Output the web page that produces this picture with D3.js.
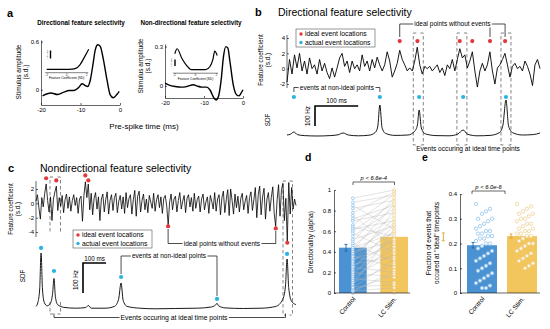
<!DOCTYPE html>
<html><head><meta charset="utf-8">
<script src="https://cdn.jsdelivr.net/npm/d3@7"></script>
<style>
body{margin:0;background:#fff}
svg{display:block;font-family:"Liberation Sans",Arial,Helvetica,sans-serif}
</style></head><body>
<svg id="fig" width="550" height="329"></svg>
<script>
// ================= DATA =================
// panel a : spike-triggered stimulus (ms, s.d.)
const aDirT = [-19.6,-17.5,-15.8,-14.2,-12.9,-11.7,-10.4,-9.6,-8.75,-8.2,-7.5,-6.8,-6.25,-5.6,-5.0,-4.2,-3.3,-2.5,-1.7,-0.8,-0.2];
const aDirV = [-0.075,-0.04,-0.06,-0.03,-0.01,-0.01,0.03,0.075,0.05,0.04,0.125,0.33,0.5,0.56,0.54,0.375,0.125,-0.06,-0.1,-0.06,-0.02];
const aNonT = [-20,-19.1,-17.4,-15.7,-14.4,-12.7,-11.9,-10.6,-9.3,-8.5,-7.4,-6.9,-6.3,-5.6,-5.0,-4.4,-3.9,-3.3,-2.5,-1.6,-1.0,-0.5,0];
const aNonV = [0.02,0.008,-0.005,-0.01,-0.005,0.008,0,-0.01,-0.01,-0.03,-0.095,-0.108,-0.082,0.046,0.225,0.3,0.29,0.175,0.008,-0.07,-0.077,-0.056,-0.03];
const aXTicks = [-20,-10,0];
const aDirYTicks = [0,0.6];
const aNonYTicks = [0,0.3];
// insets: spike probability vs feature coefficient (SD)
const inDirX = [-2,-1,0,0.5,0.9,1.3,1.8,2.2];
const inDirY = [0.11,0.11,0.11,0.12,0.15,0.29,0.64,0.95];
const inNonX = [-1.97,-1.75,-1.28,-0.84,-0.38,0.98,1.38,1.67,1.83,2.07];
const inNonY = [0.78,0.99,0.57,0.29,0.12,0.12,0.25,0.57,0.89,0.71];
const inTicks = [-2,0,2];

// panel b : directional feature coefficient trace (s.d.), sample step 5.8 ms
const bDt = 5.8;
const bCoef = [-1.75,1.2,-0.7,1.8,0.1,2.0,-0.3,1.0,-0.7,1.4,0.0,0.5,-0.7,1.2,-0.3,0.7,-0.5,-1.3,0.1,-1.1,
  0.1,1.4,2.0,0.3,1.0,-0.5,1.0,0.0,0.5,-0.3,1.8,0.3,1.0,-0.3,1.2,0.1,1.5,0.5,-0.3,0.5,
  2.2,1.0,-1.1,-0.3,0.7,2.4,1.2,0.5,-0.3,0.1,-0.3,1.0,2.8,0.5,-0.7,0.3,0.0,0.3,-0.3,0.1,
  0.5,-0.5,0.1,-0.9,0.5,0.0,1.2,-0.3,1.2,2.6,1.4,1.8,0.1,1.0,2.2,-0.3,-2.4,-0.3,0.7,-0.3,
  0.5,2.2,-0.3,-2.0,0.1,0.5,1.2,2.0,0.5,-1.1,0.3,0.7,0.0,0.3,-0.3,1.0,0.3,-0.7,-2.2,0.5,
  1.2,0.0];
const bIdealT = [261,302,400,429,470,505];
const bIdealV = [3.6,3.6,3.6,3.6,3.6,3.6];
const bEventT = [16,215,306,408,507];
const bEventHz = [200,200,200,200,200];
const bSdfT  = [0,8,16,24,40,70,100,118,130,142,165,190,204,210,215,220,228,250,280,296,302,306,311,320,345,375,395,408,418,440,470,492,500,507,513,522,545,570,586];
const bSdfHz = [10,14,25,12,7,5,7,11,20,10,6,9,22,50,160,48,18,8,10,30,60,135,45,16,7,6,14,35,14,6,8,22,60,185,55,22,10,12,20];
const bBoxT = [304,405,507];
const bYTicks = [-2,0,2,4];

// panel c : non-directional feature coefficient trace, sample step 6.3 ms
const cDt = 6.3;
const cCoef = [0.3,1.2,-0.6,-2.2,0.8,-0.5,1.4,2.7,0.4,-1.2,
  0.9,-2.4,0.6,1.6,2.4,-1.0,0.8,-0.4,1.1,-1.3,
  0.5,1.3,-0.7,0.9,-1.1,0.4,1.2,-0.3,0.8,-1.4,
  0.6,1.0,-2.5,1.1,3.0,0.8,2.7,-0.9,1.4,-1.6,
  0.7,1.5,-0.8,0.9,-2.4,0.6,1.3,-1.2,0.5,1.6,
  -1.5,0.4,1.2,-1.0,0.8,1.4,-1.3,0.3,1.1,-0.8,
  0.9,-1.4,1.5,-0.6,0.7,1.2,-1.5,0.5,1.8,-1.8,
  1.0,1.7,-1.2,0.4,1.3,-0.9,0.6,-1.3,1.1,0.2,
  -0.7,1.4,-1.1,0.5,1.2,-0.6,0.9,-1.4,0.7,1.1,
  -0.4,-3.0,0.2,1.3,-0.9,0.6,1.0,-1.2,0.4,1.5,
  -0.8,0.3,1.1,-1.3,0.7,1.2,-0.5,0.8,-1.1,1.4,
  -0.7,0.5,1.0,-1.2,0.6,1.3,-0.9,0.2,0.9,-1.4,
  1.1,0.3,-0.8,1.5,-1.1,0.6,1.2,-1.6,0.8,1.7,
  -1.3,0.5,1.9,-1.7,2.0,0.4,-1.5,1.3,-0.6,1.0,
  -1.2,0.7,1.4,-0.9,0.3,1.1,-1.4,0.8,1.6,-1.0,
  0.5,2.2,-2.0,1.2,2.4,-1.6,0.9,2.1,-2.2,0.6,
  1.5,-1.1,0.8,2.3,-1.4,-3.2,0.5,2.6,-1.8,1.9,
  2.8,-2.4,0.7,-5.3,2.9,-1.5,2.2,-0.8,0.6,-0.3];
const cIdealT = [44,88,214,227,573,1040,1090];
const cIdealV = [3.5,3.2,3.9,3.2,-3.2,-3.5,-5.5];
const cEventT = [22,78,369,785,1089];
const cEventHz = [207,130,110,37,187];
const cSdfT  = [0,8,16,22,28,36,48,62,72,78,84,94,120,170,215,227,240,300,340,358,369,378,395,450,520,600,700,760,778,785,792,820,900,980,1040,1070,1082,1089,1096,1108,1127];
const cSdfHz = [12,25,70,190,70,25,14,22,55,105,45,18,9,6,8,15,6,6,12,35,90,32,12,6,4,5,6,10,16,22,14,7,5,6,12,35,80,170,75,30,18];
const cYTicks = [-4,-2,0,2];

// panel d : directionality (alpha)
const groups = ["Control","LC Stim."];
const dMeans = [0.44,0.545];
const dErr = [0.032,0.038];
const dControl = [0.92,0.88,0.85,0.82,0.78,0.75,0.72,0.7,0.66,0.64,0.62,0.6,0.58,0.55,0.52,0.5,0.48,0.46,0.44,0.42,0.4,0.38,0.36,0.35,0.33,0.31,0.3,0.28,0.26,0.25,0.23,0.21,0.2,0.18,0.16,0.14,0.12,0.1,0.08,0.06,0.05,0.03,0.02,0.01,0.0];
const dLC = [1.0,0.95,0.62,0.9,0.98,0.45,0.85,0.78,0.96,0.55,0.7,0.88,0.4,0.82,0.65,0.92,0.3,0.75,0.58,0.86,0.5,0.68,0.25,0.72,0.45,0.6,0.8,0.35,0.52,0.2,0.66,0.42,0.15,0.56,0.38,0.1,0.48,0.28,0.62,0.08,0.33,0.18,0.05,0.22,0.0];
const dYTicks = [0,0.2,0.4,0.6,0.8,1];
const dP = "p < 6.6e-4";

// panel e : fraction of events at ideal timepoints
const eMeans = [0.193,0.23];
const eErr = [0.011,0.008];
const eControl = [0.36,0.34,0.33,0.32,0.3,0.3,0.29,0.28,0.27,0.26,0.25,0.25,0.24,0.24,0.23,0.23,0.22,0.22,0.21,0.2,0.2,0.19,0.18,0.17,0.16,0.15,0.14,0.13,0.12,0.11,0.1,0.09,0.08,0.07,0.06,0.05,0.04,0.03,0.02,0.02];
const eLC = [0.36,0.35,0.34,0.33,0.32,0.32,0.31,0.3,0.3,0.29,0.28,0.28,0.27,0.26,0.26,0.25,0.25,0.24,0.24,0.23,0.23,0.22,0.21,0.2,0.2,0.19,0.18,0.17,0.16,0.15,0.14,0.13,0.12,0.11,0.1];
const eYTicks = [0,0.1,0.2,0.3,0.4];
const eP = "p < 6.0e-6";

// ================= DRAW =================
const FONT = '"Liberation Sans", Arial, Helvetica, sans-serif';
const RED = "#e5363a", CYAN = "#29b3e2";
const BLUE = "#4b92d2", YEL = "#f2c55d";
const svg = d3.select("#fig");

function txt(x, y, s, o = {}) {
  const t = svg.append("text").attr("x", x).attr("y", y).text(s)
    .attr("font-size", o.size || 6).attr("fill", o.fill || "#000")
    .attr("text-anchor", o.anchor || "start");
  if (o.weight) t.attr("font-weight", o.weight);
  if (o.style) t.attr("font-style", o.style);
  if (o.rot !== undefined) t.attr("transform", `rotate(${o.rot},${x},${y})`);
  if (o.halo) t.attr("stroke", "#fff").attr("stroke-width", 3).attr("paint-order", "stroke");
  return t;
}
function styleAxis(g, size) {
  g.attr("font-family", FONT).attr("font-size", size || 6);
  g.selectAll("path,line").attr("stroke", "#000").attr("stroke-width", 0.6);
  g.selectAll("text").attr("fill", "#000");
  return g;
}
function path(d, o = {}) {
  return svg.append("path").attr("d", d).attr("fill", "none")
    .attr("stroke", o.stroke || "#000").attr("stroke-width", o.w || 0.8)
    .attr("stroke-dasharray", o.dash || null);
}
const fmt = d => String(d);

// ---------- panel a ----------
txt(7, 17, "a", {size: 11, weight: "bold"});
txt(81, 25, "Directional feature selectivity", {size: 6.3, weight: "bold", anchor: "middle"});
txt(191, 25, "Non-directional feature selectivity", {size: 6.3, weight: "bold", anchor: "middle"});
txt(144, 129, "Pre-spike time (ms)", {size: 8, anchor: "middle"});

function panelA(c) {
  const x = d3.scaleLinear().domain([-20, 0]).range(c.xr);
  const y = d3.scaleLinear().domain(c.yd).range(c.yr);
  styleAxis(svg.append("g").attr("transform", `translate(0,${c.yr[0]})`)
    .call(d3.axisBottom(x).tickValues(aXTicks).tickSize(-2).tickPadding(3).tickSizeOuter(0).tickFormat(fmt)));
  styleAxis(svg.append("g").attr("transform", `translate(${c.xr[0]},0)`)
    .call(d3.axisLeft(y).tickValues(c.yt).tickSize(-2).tickPadding(2).tickSizeOuter(0).tickFormat(fmt)));
  const ln = d3.line().x(d => x(d[0])).y(d => y(d[1])).curve(d3.curveMonotoneX);
  path(ln(c.t.map((t, i) => [t, c.v[i]])), {w: 1.4});
  txt(c.lx, c.ly, "Stimulus amplitude", {size: 6.5, anchor: "middle", rot: -90});
  txt(c.lx + 7, c.ly, "(s.d.)", {size: 6.5, anchor: "middle", rot: -90});
  // inset
  const ix = d3.scaleLinear().domain([-2, 2]).range(c.ixr);
  const iy = d3.scaleLinear().domain([0, 1]).range([c.iy0, c.iy0 - 24]);
  path(`M${c.ixr[0] - 1.5},${c.iy0 + 0.7}H${c.ixr[1] + 1.5}`, {w: 0.5});
  inTicks.forEach(t => txt(ix(t), c.iy0 + 3.8, String(t), {size: 2.6, anchor: "middle"}));
  txt((c.ixr[0] + c.ixr[1]) / 2, c.iy0 + 7, "Feature Coefficient (SD)", {size: 3.3, anchor: "middle"});
  const il = d3.line().x(d => ix(d[0])).y(d => iy(d[1])).curve(d3.curveMonotoneX);
  path(il(c.ix.map((t, i) => [t, c.iv[i]])), {w: 1.2});
  svg.append("rect").attr("x", c.sb[0] - 0.7).attr("y", c.sb[1]).attr("width", 1.4).attr("height", c.sb[2]).attr("fill", "#000");
  txt(c.sb[0] - 3, c.sb[1] + c.sb[2] / 2, "# spikes", {size: 2.4, anchor: "middle", rot: -90});
}
panelA({xr: [41, 120], yd: [-0.19, 0.62], yr: [105, 40], yt: aDirYTicks, t: aDirT, v: aDirV,
  lx: 21, ly: 72, ixr: [46.7, 86.7], iy0: 72, ix: inDirX, iv: inDirY, sb: [50.5, 50.5, 8]});
panelA({xr: [165, 243], yd: [-0.093, 0.32], yr: [98, 44], yt: aNonYTicks, t: aNonT, v: aNonV,
  lx: 143, ly: 66, ixr: [174.5, 216.5], iy0: 72.5, ix: inNonX, iv: inNonY, sb: [175, 59.5, 6.5]});

// ---------- panel b ----------
txt(255, 16, "b", {size: 11, weight: "bold"});
txt(278, 16, "Directional feature selectivity", {size: 10.5});
const bx = d3.scaleLinear().domain([0, (bCoef.length - 1) * bDt]).range([287, 540]);
const by = d3.scaleLinear().domain([-2, 4]).range([84, 38]);
const bs = d3.scaleLinear().domain([0, 100]).range([137, 117]);
// dashed boxes
bBoxT.forEach(t => {
  const xl = bx(t) - 5, xr = bx(t) + 5;
  path(`M${xl + 3},33H${xl}V145H${xl + 3}M${xr - 3},33H${xr}V145H${xr - 3}`, {w: 0.6, dash: "3.5,2.5", stroke: "#333"});
});
const bAx = styleAxis(svg.append("g").attr("transform", "translate(287,0)")
  .call(d3.axisLeft(by).tickValues(bYTicks).tickSize(-2).tickPadding(2).tickSizeOuter(0).tickFormat(fmt)));
bAx.select("path.domain").attr("d", "M0,35V88");
const bl = d3.line().x((d, i) => bx(i * bDt)).y(d => by(d));
path(bl(bCoef), {w: 0.9});
const bsl = d3.line().x(d => bx(d[0])).y(d => bs(d[1])).curve(d3.curveMonotoneX);
path(bsl(bSdfT.map((t, i) => [t, bSdfHz[i]])), {w: 0.9});
txt(263, 60, "Feature coefficient", {size: 6.3, anchor: "middle", rot: -90});
txt(270, 60, "(s.d.)", {size: 6.3, anchor: "middle", rot: -90});
txt(270, 120, "SDF", {size: 6.3, anchor: "middle", rot: -90});
// bracket ideal points without events
{
  const x1 = bx(bIdealT[0]), x2 = bx(bIdealT[5]), xm = bx(bIdealT[4]);
  path(`M${x1},37V24H${x2}V37M${xm},24V37`, {w: 0.7});
  txt((x1 + x2) / 2, 26, "ideal points without events", {size: 6.5, anchor: "middle", halo: true});
}
// bracket events at non-ideal points
{
  const x1 = bx(bEventT[0]), x2 = bx(bEventT[1]);
  path(`M${x1},92V87.5H${x2}V92`, {w: 0.7});
  txt((x1 + x2) / 2, 89.5, "events at non-ideal points", {size: 6.5, anchor: "middle", halo: true});
}
txt(468, 151, "Events occuring at ideal time points", {size: 6.6, anchor: "middle"});
bIdealT.forEach((t, i) => svg.append("circle").attr("cx", bx(t)).attr("cy", by(bIdealV[i])).attr("r", 2.1).attr("fill", RED));
bEventT.forEach((t, i) => svg.append("circle").attr("cx", bx(t)).attr("cy", bs(bEventHz[i])).attr("r", 2.1).attr("fill", CYAN));
// legend
svg.append("rect").attr("x", 296).attr("y", 29).attr("width", 79).attr("height", 18).attr("fill", "#fff").attr("stroke", "#333").attr("stroke-width", 0.5);
svg.append("circle").attr("cx", 301).attr("cy", 34).attr("r", 1.7).attr("fill", RED);
svg.append("circle").attr("cx", 301).attr("cy", 42.5).attr("r", 1.7).attr("fill", CYAN);
txt(305, 36.3, "ideal event locations", {size: 6.8});
txt(305, 44.8, "actual event locations", {size: 6.8});
// scale bars
{
  const x0 = 315, t0 = bx.invert(x0);
  const yTop = bs(bs.invert(126) + 100);
  path(`M${x0},126V${yTop}H${bx(t0 + 100)}`, {w: 1.6});
  txt((x0 + bx(t0 + 100)) / 2, 102.5, "100 ms", {size: 6.3, anchor: "middle"});
  txt(310, 116, "100 Hz", {size: 6.3, anchor: "middle", rot: -90});
}

// ---------- panel c ----------
txt(8, 172, "c", {size: 11, weight: "bold"});
txt(40, 172, "Nondirectional feature selectivity", {size: 10.5});
const cx = d3.scaleLinear().domain([0, (cCoef.length - 1) * cDt]).range([36, 296]);
const cy = d3.scaleLinear().domain([-4, 2]).range([232, 189]);
const cs = d3.scaleLinear().domain([0, 100]).range([310, 280]);
// dashed boxes
{
  const xa = 50, xb = 60.5;
  path(`M${xa + 3},177H${xa}V233M${xb - 3},177H${xb}V233M${xa},302V314H${xa + 3}M${xb},302V314H${xb - 3}`, {w: 0.6, dash: "3.5,2.5", stroke: "#333"});
  const xc = 283, xd = 292.5;
  path(`M${xc + 3},181H${xc}V315H${xc + 3}M${xd - 3},181H${xd}V315H${xd - 3}`, {w: 0.6, dash: "3.5,2.5", stroke: "#333"});
}
const cAx = styleAxis(svg.append("g").attr("transform", "translate(36,0)")
  .call(d3.axisLeft(cy).tickValues(cYTicks).tickSize(-2).tickPadding(2).tickSizeOuter(0).tickFormat(fmt)));
cAx.select("path.domain").attr("d", "M0,181V237");
const cl = d3.line().x((d, i) => cx(i * cDt)).y(d => cy(d));
path(cl(cCoef), {w: 0.8});
const csl = d3.line().x(d => cx(d[0])).y(d => cs(d[1])).curve(d3.curveMonotoneX);
path(csl(cSdfT.map((t, i) => [t, cSdfHz[i]])), {w: 0.9});
txt(13, 209, "Feature coefficient", {size: 6.3, anchor: "middle", rot: -90});
txt(20, 209, "(s.d.)", {size: 6.3, anchor: "middle", rot: -90});
txt(25, 276, "SDF", {size: 6.3, anchor: "middle", rot: -90});
{
  const x1 = cx(cIdealT[4]), x2 = cx(cIdealT[5]);
  path(`M${x1},229V243.5H${x2}V231`, {w: 0.7});
  txt((x1 + x2) / 2, 245.8, "ideal points without events", {size: 6.5, anchor: "middle", halo: true});
}
{
  const x1 = cx(cEventT[2]), x2 = cx(cEventT[3]);
  path(`M${x1},274V256H${x2}V296`, {w: 0.7});
  txt((x1 + x2) / 2, 258.3, "events at non-ideal points", {size: 6.5, anchor: "middle", halo: true});
}
{
  const x1 = 54, x2 = 285.5;
  path(`M${x1},313.5V317.5H${x2}V313.5`, {w: 0.7});
  txt(174, 319.8, "Events occuring at ideal time points", {size: 6.8, anchor: "middle", halo: true});
}
cIdealT.forEach((t, i) => svg.append("circle").attr("cx", cx(t)).attr("cy", cy(cIdealV[i])).attr("r", 2.1).attr("fill", RED));
cEventT.forEach((t, i) => svg.append("circle").attr("cx", cx(t)).attr("cy", cs(cEventHz[i])).attr("r", 2.1).attr("fill", CYAN));
svg.append("rect").attr("x", 73).attr("y", 230).attr("width", 79).attr("height", 18).attr("fill", "#fff").attr("stroke", "#333").attr("stroke-width", 0.5);
svg.append("circle").attr("cx", 78).attr("cy", 235).attr("r", 1.7).attr("fill", RED);
svg.append("circle").attr("cx", 78).attr("cy", 243.5).attr("r", 1.7).attr("fill", CYAN);
txt(82, 237.3, "ideal event locations", {size: 6.8});
txt(82, 245.8, "actual event locations", {size: 6.8});
{
  const x0 = 83, t0 = cx.invert(x0);
  const yTop = cs(cs.invert(293) + 100);
  path(`M${x0},293V${yTop}H${cx(t0 + 100)}`, {w: 1.6});
  txt((x0 + cx(t0 + 100)) / 2, 260.5, "100 ms", {size: 6.3, anchor: "middle"});
  txt(78, 280, "100 Hz", {size: 6.3, anchor: "middle", rot: -90});
}

// ---------- bar panels d & e ----------
function barPanel(c) {
  const y = d3.scaleLinear().domain(c.yd).range([293, c.yTop]);
  const x = d3.scaleBand().domain(groups).range(c.xr).paddingInner(c.pad).paddingOuter(0);
  const bw = x.bandwidth();
  groups.forEach((g, i) => {
    svg.append("rect").attr("x", x(g)).attr("y", y(c.means[i])).attr("width", bw)
      .attr("height", y(0) - y(c.means[i])).attr("fill", i ? YEL : BLUE);
  });
  if (c.paired) {
    c.vals[0].forEach((v, i) => {
      svg.append("line").attr("x1", x(groups[0]) + bw / 2).attr("y1", y(v))
        .attr("x2", x(groups[1]) + bw / 2).attr("y2", y(c.vals[1][i]))
        .attr("stroke", "#b9b9b9").attr("stroke-width", 0.4);
    });
  }
  c.vals.forEach((arr, gi) => {
    arr.forEach((v, i) => {
      const j = c.paired ? 0 : (((i * 7) % 9) - 4) / 4 * c.jit;
      svg.append("circle").attr("cx", x(groups[gi]) + bw / 2 + c.dotShift[gi] + j).attr("cy", y(v)).attr("r", c.r)
        .attr("fill", "#fff").attr("fill-opacity", 0.85)
        .attr("stroke", gi ? "#efd395" : "#92c3ec").attr("stroke-width", 0.8);
    });
  });
  groups.forEach((g, i) => {
    const ex = x(g) + c.errOff[i];
    const col = i ? "#d9a22c" : "#1c66b0";
    path(`M${ex},${y(c.means[i] - c.err[i])}V${y(c.means[i] + c.err[i])}M${ex - 1.5},${y(c.means[i] - c.err[i])}H${ex + 1.5}M${ex - 1.5},${y(c.means[i] + c.err[i])}H${ex + 1.5}`, {w: 0.9, stroke: col});
  });
  styleAxis(svg.append("g").attr("transform", `translate(${c.ax},0)`)
    .call(d3.axisLeft(y).tickValues(c.yt).tickSize(-2).tickPadding(3).tickSizeOuter(0).tickFormat(fmt)));
  path(`M${c.ax},293H${c.axEnd}`, {w: 0.6});
  groups.forEach(g => {
    txt(x(g) + bw / 2 + 3, 299, g, {size: 6.5, anchor: "end", rot: -50});
  });
  path(`M${c.br[0]},${c.br[2] + 3}V${c.br[2]}H${c.br[1]}V${c.br[2] + 3}`, {w: 0.6});
  txt((c.br[0] + c.br[1]) / 2, c.br[2] - 2.5, c.p, {size: 5.8, anchor: "middle", style: "italic"});
}
txt(305, 161, "d", {size: 10.5, weight: "bold"});
txt(422, 161, "e", {size: 10.5, weight: "bold"});
barPanel({yd: [0, 1], yTop: 190, xr: [339, 408], pad: 0.33, means: dMeans, err: dErr, vals: [dControl, dLC], paired: true,
  dotShift: [0, 0], jit: 0, r: 1.4, errOff: [7, 63], ax: 334, axEnd: 410, yt: dYTicks, br: [353, 394.5, 182], p: dP});
txt(313, 242, "Directionality (alpha)", {size: 6.8, anchor: "middle", rot: -90});
barPanel({yd: [0, 0.4], yTop: 194, xr: [467, 537], pad: 0.25, means: eMeans, err: eErr, vals: [eControl, eLC], paired: false,
  dotShift: [2, 3], jit: 8, r: 1.7, errOff: [6, 4], ax: 460, axEnd: 540, yt: eYTicks, br: [472, 505, 191], p: eP});
txt(431, 243, "Fraction of events that", {size: 6.5, anchor: "middle", rot: -90});
txt(439, 243, "occured at \"ideal\" timepoints", {size: 6.5, anchor: "middle", rot: -90});
</script>
</body></html>
